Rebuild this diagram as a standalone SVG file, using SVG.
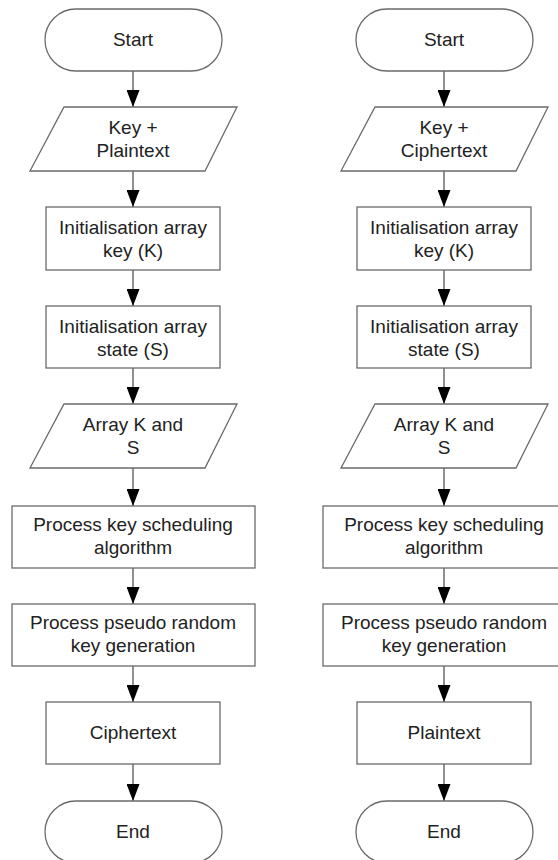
<svg xmlns="http://www.w3.org/2000/svg" width="558" height="860" viewBox="0 0 558 860">
<style>
.s{fill:#fff;stroke:#6a6a6a;stroke-width:1.3}
.t{font-family:"Liberation Sans",Arial,sans-serif;font-size:19px;fill:#222;text-anchor:middle}
.c line{stroke:#555;stroke-width:1.3;fill:none;marker-end:url(#ahd)}
</style>
<defs>
<marker id="ahd" markerUnits="userSpaceOnUse" markerWidth="13" markerHeight="17" refX="6.5" refY="17" orient="0" viewBox="0 0 13 17">
<path d="M0,0 L13,0 L6.5,17 Z" fill="#000"/>
</marker>
</defs>
<rect width="558" height="860" fill="#fff"/>
<g id="connectors" class="c">
<line x1="133" y1="71" x2="133" y2="107"/>
<line x1="133" y1="171" x2="133" y2="207"/>
<line x1="133" y1="270" x2="133" y2="306"/>
<line x1="133" y1="368" x2="133" y2="404"/>
<line x1="133" y1="468" x2="133" y2="506"/>
<line x1="133" y1="568" x2="133" y2="604"/>
<line x1="133" y1="666" x2="133" y2="702"/>
<line x1="133" y1="764" x2="133" y2="801"/>
<line x1="444" y1="71" x2="444" y2="107"/>
<line x1="444" y1="171" x2="444" y2="207"/>
<line x1="444" y1="270" x2="444" y2="306"/>
<line x1="444" y1="368" x2="444" y2="404"/>
<line x1="444" y1="468" x2="444" y2="506"/>
<line x1="444" y1="568" x2="444" y2="604"/>
<line x1="444" y1="666" x2="444" y2="702"/>
<line x1="444" y1="764" x2="444" y2="801"/>
</g>
<g id="L-start"><rect class="s" x="45" y="9" width="177" height="62" rx="31"/><text class="t" x="133" y="46">Start</text></g>
<g id="L-input"><polygon class="s" points="64,107 237,107 205,171 30,171"/><text class="t" x="133" y="134">Key +</text><text class="t" x="133" y="157">Plaintext</text></g>
<g id="L-initK"><rect class="s" x="46" y="207" width="174" height="63"/><text class="t" x="133" y="234">Initialisation array</text><text class="t" x="133" y="257">key (K)</text></g>
<g id="L-initS"><rect class="s" x="46" y="306" width="174" height="62"/><text class="t" x="133" y="333">Initialisation array</text><text class="t" x="133" y="356">state (S)</text></g>
<g id="L-array"><polygon class="s" points="64,404 237,404 205,468 30,468"/><text class="t" x="133" y="431">Array K and</text><text class="t" x="133" y="454">S</text></g>
<g id="L-ksa"><rect class="s" x="12" y="506" width="243" height="62"/><text class="t" x="133" y="531">Process key scheduling</text><text class="t" x="133" y="554">algorithm</text></g>
<g id="L-prga"><rect class="s" x="12" y="604" width="243" height="62"/><text class="t" x="133" y="629">Process pseudo random</text><text class="t" x="133" y="652">key generation</text></g>
<g id="L-output"><rect class="s" x="46" y="702" width="174" height="62"/><text class="t" x="133" y="739">Ciphertext</text></g>
<g id="L-end"><rect class="s" x="45" y="801" width="177" height="62" rx="31"/><text class="t" x="133" y="838">End</text></g>

<g id="R-start"><rect class="s" x="356" y="9" width="177" height="62" rx="31"/><text class="t" x="444" y="46">Start</text></g>
<g id="R-input"><polygon class="s" points="375,107 548,107 516,171 341,171"/><text class="t" x="444" y="134">Key +</text><text class="t" x="444" y="157">Ciphertext</text></g>
<g id="R-initK"><rect class="s" x="357" y="207" width="174" height="63"/><text class="t" x="444" y="234">Initialisation array</text><text class="t" x="444" y="257">key (K)</text></g>
<g id="R-initS"><rect class="s" x="357" y="306" width="174" height="62"/><text class="t" x="444" y="333">Initialisation array</text><text class="t" x="444" y="356">state (S)</text></g>
<g id="R-array"><polygon class="s" points="375,404 548,404 516,468 341,468"/><text class="t" x="444" y="431">Array K and</text><text class="t" x="444" y="454">S</text></g>
<g id="R-ksa"><rect class="s" x="323" y="506" width="243" height="62"/><text class="t" x="444" y="531">Process key scheduling</text><text class="t" x="444" y="554">algorithm</text></g>
<g id="R-prga"><rect class="s" x="323" y="604" width="243" height="62"/><text class="t" x="444" y="629">Process pseudo random</text><text class="t" x="444" y="652">key generation</text></g>
<g id="R-output"><rect class="s" x="357" y="702" width="174" height="62"/><text class="t" x="444" y="739">Plaintext</text></g>
<g id="R-end"><rect class="s" x="356" y="801" width="177" height="62" rx="31"/><text class="t" x="444" y="838">End</text></g>
</svg>
